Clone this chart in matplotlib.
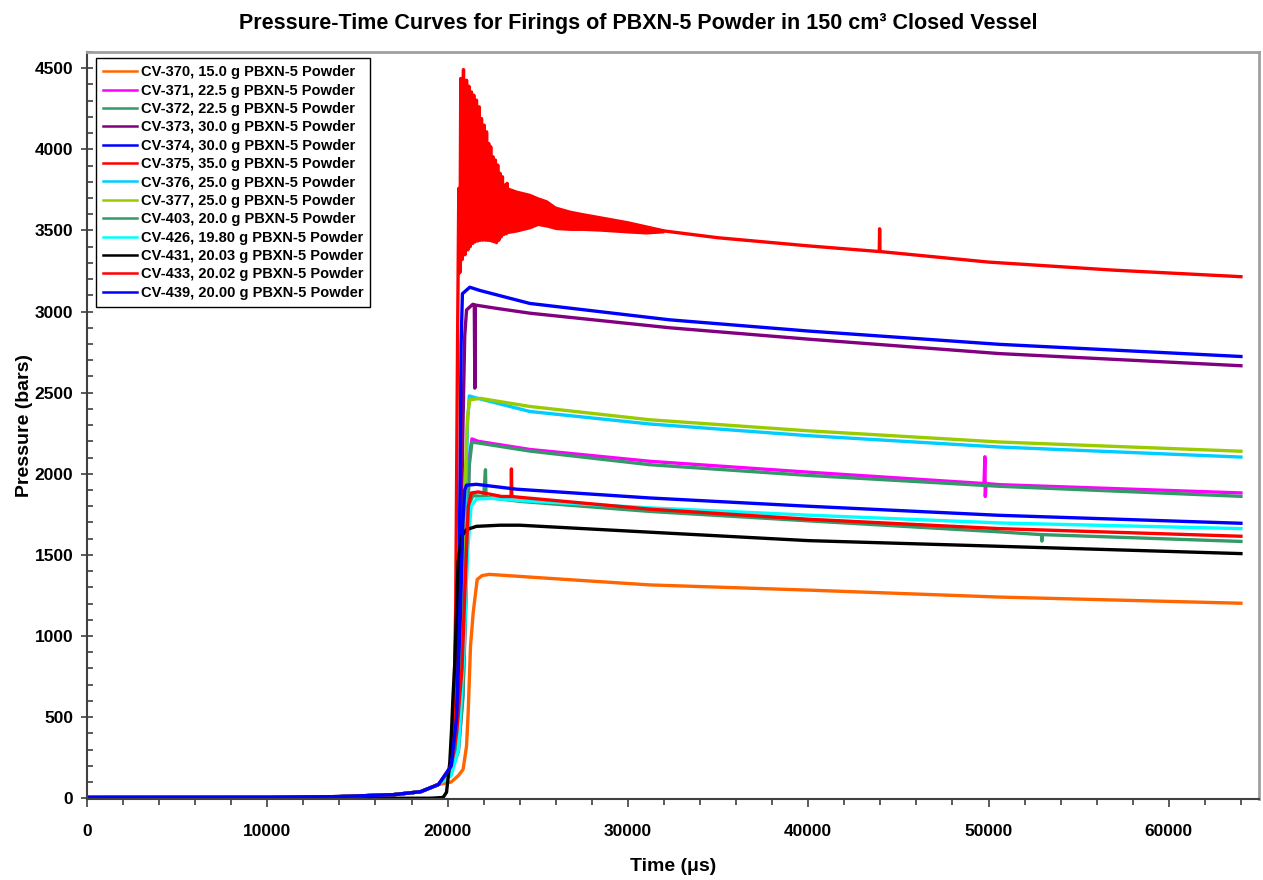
import matplotlib
matplotlib.use("Agg")
import matplotlib.pyplot as plt
from matplotlib.ticker import MultipleLocator

plt.rcParams['font.family'] = ['Liberation Sans', 'DejaVu Sans']
plt.rcParams['font.weight'] = 'bold'

# ---------------- data (time in microseconds, pressure in bars) ----------------
labels = ["CV-370, 15.0 g PBXN-5 Powder", "CV-371, 22.5 g PBXN-5 Powder",
          "CV-372, 22.5 g PBXN-5 Powder", "CV-373, 30.0 g PBXN-5 Powder",
          "CV-374, 30.0 g PBXN-5 Powder", "CV-375, 35.0 g PBXN-5 Powder",
          "CV-376, 25.0 g PBXN-5 Powder", "CV-377, 25.0 g PBXN-5 Powder",
          "CV-403, 20.0 g PBXN-5 Powder", "CV-426, 19.80 g PBXN-5 Powder",
          "CV-431, 20.03 g PBXN-5 Powder", "CV-433, 20.02 g PBXN-5 Powder",
          "CV-439, 20.00 g PBXN-5 Powder"]
colors = ["#FF6600", "#FF00FF", "#339966", "#800080", "#0000FF", "#FF0000",
          "#00CCFF", "#99CC00", "#339966", "#00FFFF", "#000000", "#FF0000", "#0000FF"]

pre_t = [0, 10000, 14000, 17000, 18500, 19500]
pre_p = [5, 6, 10, 22, 40, 85]

t370 = pre_t + [20200, 20600, 20860, 21050, 21140, 21270, 21420, 21640, 21900, 22300, 25000, 31210, 40000, 50600, 64000]
p370 = pre_p + [100, 140, 178, 322, 527, 938, 1145, 1348, 1372, 1380, 1360, 1315, 1283, 1240, 1202]

t371 = pre_t + [20200, 20600, 20850, 21000, 21100, 21200, 21350, 21700, 24560, 31210, 40000, 49750, 49800, 49820, 49870, 50600, 64000]
p371 = pre_p + [170, 300, 650, 1200, 1700, 2100, 2215, 2200, 2150, 2077, 2010, 1940, 2105, 1860, 1940, 1933, 1882]

t372 = pre_t + [20200, 20600, 20850, 21000, 21100, 21200, 21350, 21700, 24560, 31210, 40000, 50600, 64000]
p372 = pre_p + [165, 290, 620, 1150, 1650, 2050, 2195, 2190, 2140, 2056, 1990, 1923, 1861]

t373 = pre_t + [20200, 20500, 20700, 20850, 20950, 21050, 21400, 21480, 21510, 21540, 22700, 24560, 32320, 40000, 50600, 64000]
p373 = pre_p + [180, 400, 1200, 2300, 2850, 3010, 3045, 3040, 2528, 3040, 3020, 2990, 2900, 2830, 2741, 2666]

t374 = pre_t + [20200, 20500, 20650, 20750, 20820, 21230, 21790, 24560, 32320, 40000, 50600, 64000]
p374 = pre_p + [190, 500, 1500, 2800, 3110, 3150, 3130, 3050, 2949, 2880, 2798, 2723]

t375 = pre_t + [20200, 20300, 20450, 20550, 20620, 20680, 20730, 20800, 20880, 20960, 21050, 21120,
                21180, 21250, 21320, 21390, 21450, 21520, 21600, 21670, 21750, 21810, 21880, 21950,
                22030, 22100, 22160, 22220, 22280, 22340, 22390, 22450, 22520, 22580, 22650, 22710,
                22780, 22840, 22910, 22970, 23040, 23110, 23190, 23250, 23300, 23400,
                32000, 35000, 40000, 43940, 43960, 43980, 50000, 57000, 64000]
p375 = pre_p + [150, 250, 1200, 2800, 3760, 3240, 4437, 3320, 4492, 3350, 4426, 3380,
                4389, 3400, 4354, 3420, 4334, 3430, 4303, 3435, 4262, 3440, 4190, 3440,
                4149, 3440, 4108, 3440, 4036, 3440, 4016, 3435, 3954, 3430, 3934, 3425,
                3903, 3440, 3852, 3460, 3831, 3475, 3780, 3480, 3790, 3600,
                3497, 3455, 3405, 3370, 3510, 3370, 3305, 3255, 3215]
# CV-375 oscillation band envelope
band_t = [20700, 21000, 21500, 22000, 22500, 23000, 23300, 23820, 24560, 25000, 25500,
          26000, 26800, 27500, 28500, 30000, 31000, 32000]
band_hi = [3650, 3700, 3720, 3730, 3740, 3760, 3770, 3749, 3729, 3708, 3689,
           3650, 3625, 3610, 3590, 3560, 3535, 3510]
band_lo = [3330, 3380, 3430, 3440, 3430, 3465, 3480, 3490, 3510, 3530, 3520,
           3505, 3500, 3500, 3495, 3484, 3478, 3485]

t376 = pre_t + [20200, 20600, 20850, 21000, 21100, 21200, 21500, 24560, 31210, 40000, 50600, 64000]
p376 = pre_p + [170, 400, 1000, 1800, 2300, 2480, 2470, 2384, 2307, 2235, 2165, 2103]

t377 = pre_t + [20200, 20600, 20800, 20950, 21100, 21230, 21800, 24560, 31210, 40000, 50600, 64000]
p377 = pre_p + [170, 450, 1100, 1900, 2350, 2456, 2465, 2415, 2333, 2265, 2196, 2139]

t403 = pre_t + [20200, 20600, 20850, 21000, 21150, 21400, 22000, 22100, 22130, 24000, 31210, 40000, 50600, 52940, 52960, 52980, 64000]
p403 = pre_p + [160, 380, 900, 1500, 1800, 1865, 1860, 2025, 1855, 1830, 1768, 1710, 1642, 1625, 1585, 1625, 1583]

t426 = pre_t + [20200, 20600, 20900, 21100, 21300, 21600, 22500, 24000, 31210, 40000, 50600, 64000]
p426 = pre_p + [140, 300, 900, 1500, 1800, 1845, 1848, 1835, 1790, 1745, 1697, 1662]

t431 = [0, 10000, 19000, 19380, 19750, 19940, 20120, 20220, 20300, 20400, 20490, 20580, 20770,
        21050, 21600, 22900, 24000, 31210, 40000, 50600, 64000]
p431 = [0, 0, 0, 2, 5, 37, 220, 425, 630, 836, 1144, 1452, 1615,
        1656, 1676, 1683, 1683, 1640, 1588, 1553, 1508]

t433 = pre_t + [20200, 20500, 20800, 21000, 21150, 21320, 21700, 23000, 23520, 23540, 23560, 24000, 31210, 40000, 50600, 64000]
p433 = pre_p + [200, 400, 800, 1400, 1800, 1882, 1888, 1860, 1860, 2030, 1860, 1855, 1782, 1720, 1662, 1615]

t439 = pre_t + [20200, 20500, 20700, 20850, 20950, 21050, 21600, 23820, 31210, 40000, 50600, 64000]
p439 = pre_p + [200, 500, 1100, 1700, 1900, 1930, 1935, 1905, 1851, 1800, 1744, 1695]

series_t = [t370, t371, t372, t373, t374, t375, t376, t377, t403, t426, t431, t433, t439]
series_p = [p370, p371, p372, p373, p374, p375, p376, p377, p403, p426, p431, p433, p439]

# ---------------- figure ----------------
fig = plt.figure(figsize=(12.63, 8.80), dpi=100)
ax = fig.add_axes([0.0689, 0.0920, 0.9279, 0.8489])

for i, (tt, pp) in enumerate(zip(series_t, series_p)):
    ax.plot(tt, pp, color=colors[i], lw=2.4, label=labels[i])
    if i == 5:
        ax.fill_between(band_t, band_lo, band_hi, color=colors[i], lw=0)

ax.set_xlim(0, 65000)
ax.set_ylim(-5, 4600)

ax.xaxis.set_major_locator(MultipleLocator(10000))
ax.xaxis.set_minor_locator(MultipleLocator(2000))
ax.yaxis.set_major_locator(MultipleLocator(500))
ax.yaxis.set_minor_locator(MultipleLocator(100))
ax.tick_params(axis='x', which='major', direction='out', length=6, width=1.2, color='#404040', labelsize=12.5, pad=12)
ax.tick_params(axis='x', which='minor', direction='out', length=4, width=1.2, color='#404040')
ax.tick_params(axis='y', which='major', direction='inout', length=8, width=1.2, color='#404040', labelsize=12.5, pad=6)
ax.tick_params(axis='y', which='minor', direction='in', length=4, width=1.2, color='#404040')
for lab in ax.get_xticklabels() + ax.get_yticklabels():
    lab.set_fontweight('bold')

for s in ['left', 'bottom']:
    ax.spines[s].set_color('#404040')
    ax.spines[s].set_linewidth(1.5)
for s in ['top', 'right']:
    ax.spines[s].set_color('#A0A0A0')
    ax.spines[s].set_linewidth(2.0)

ax.set_xlabel("Time (\u03bcs)", fontsize=14, fontweight='bold', labelpad=14)
ax.set_ylabel("Pressure (bars)", fontsize=14, fontweight='bold', labelpad=1)
fig.suptitle("Pressure-Time Curves for Firings of PBXN-5 Powder in 150 cm\u00b3 Closed Vessel",
             x=0.505, y=0.985, fontsize=15.5, fontweight='bold')

leg = ax.legend(loc='upper left', bbox_to_anchor=(0.0077, 0.992), fontsize=10.5,
                frameon=True, fancybox=False, framealpha=1, edgecolor='black',
                handlelength=2.3, handletextpad=0.25, labelspacing=0.3,
                borderpad=0.5, borderaxespad=0)
leg.get_frame().set_linewidth(1.0)
for txt in leg.get_texts():
    txt.set_fontweight('bold')
for ln in leg.get_lines():
    ln.set_linewidth(1.8)

fig.savefig("out.png", dpi=100)
